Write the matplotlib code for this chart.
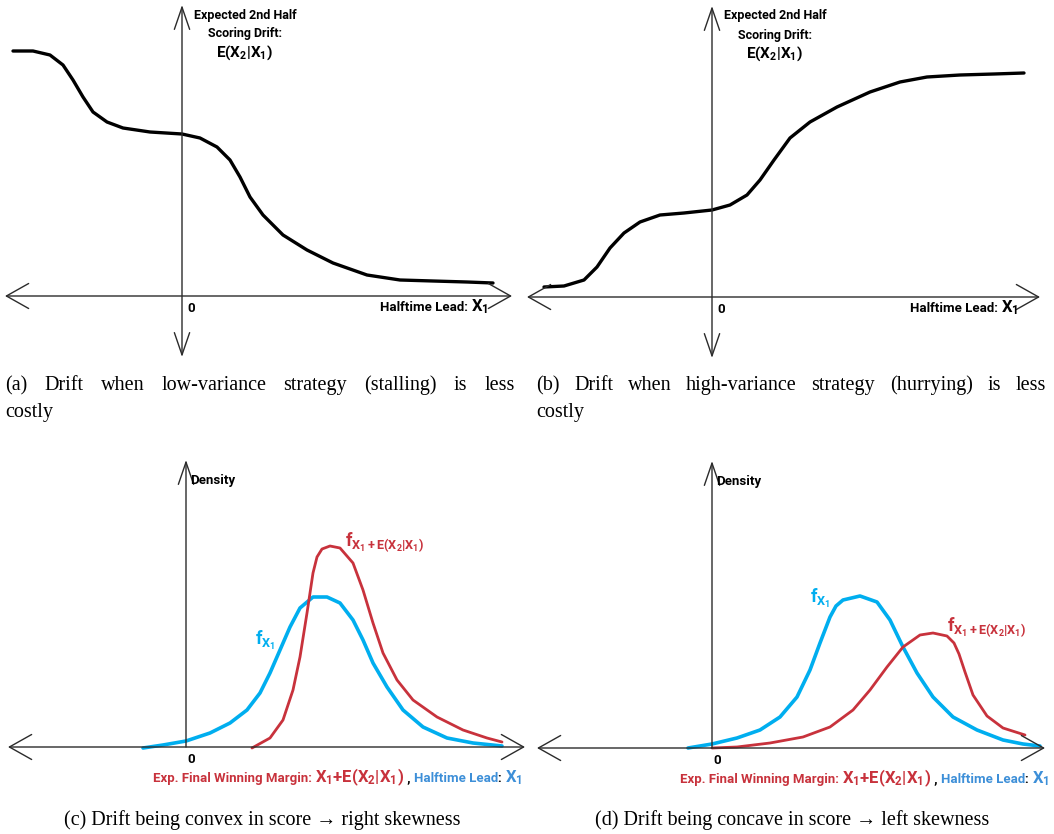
import matplotlib
matplotlib.use('Agg')
import matplotlib.pyplot as plt
from matplotlib import font_manager

# ---- data (1 unit = 10 px, origin at the axis crossing) ----
a_x = [-16.9, -14.9, -13.2, -11.9, -10.9, -9.9, -8.9, -7.5, -5.9, -3.2, 0, 1.8, 3.5, 4.8, 5.8, 6.8,
       8.1, 10.1, 12.5, 15.1, 18.5, 21.8, 25.1, 28.5, 31.1]
a_y = [24.5, 24.5, 24.1, 23.1, 21.6, 19.9, 18.4, 17.4, 16.8, 16.4, 16.2, 15.8, 14.9, 13.6, 11.9, 9.9,
       8.1, 6.1, 4.6, 3.3, 2.1, 1.6, 1.5, 1.4, 1.3]

b_x = [-16.8, -14.8, -12.8, -11.5, -10.2, -8.8, -7.2, -5.2, -2.8, 0, 1.8, 3.5, 4.8, 6.2, 7.8, 9.8,
       12.5, 15.8, 18.8, 21.5, 24.8, 28.2, 31.2]
b_y = [1.0, 1.1, 1.7, 3.0, 4.9, 6.4, 7.5, 8.2, 8.4, 8.7, 9.2, 10.2, 11.7, 13.7, 15.9, 17.5,
       19.0, 20.5, 21.5, 22.0, 22.2, 22.3, 22.4]

c_blue_x = [-4.3, -2.3, 0, 2.4, 4.4, 6.1, 7.4, 8.4, 9.4, 10.4, 11.4, 12.7, 14.1, 15.4, 16.7, 17.7,
            18.7, 20.1, 21.7, 23.7, 26.1, 28.7, 31.6]
c_blue_y = [-0.1, 0.2, 0.6, 1.4, 2.4, 3.7, 5.4, 7.4, 9.7, 12.0, 13.9, 15.0, 15.0, 14.4, 12.7, 10.7,
            8.4, 6.0, 3.7, 2.0, 0.9, 0.4, 0.1]
c_red_x = [6.6, 8.4, 9.7, 10.7, 11.4, 12.1, 12.7, 13.1, 13.6, 14.4, 15.4, 16.7, 17.7, 18.7, 19.7,
           21.1, 22.7, 25.1, 27.7, 30.1, 31.6]
c_red_y = [-0.1, 0.9, 2.7, 5.7, 9.0, 13.4, 17.4, 19.0, 19.8, 20.1, 19.9, 18.4, 15.7, 12.4, 9.4,
           6.7, 4.7, 3.0, 1.7, 0.9, 0.5]

d_blue_x = [-2.4, 0, 2.5, 4.8, 6.8, 8.5, 9.8, 10.8, 11.8, 12.4, 13.1, 14.8, 16.5, 17.8, 19.1, 20.5,
            22.1, 24.1, 26.5, 29.1, 31.1, 32.8]
d_blue_y = [0, 0.4, 1.0, 1.8, 3.1, 5.1, 7.8, 10.5, 13.1, 14.2, 14.8, 15.2, 14.6, 12.8, 10.1, 7.5,
            5.1, 3.1, 1.8, 0.8, 0.4, 0.2]
d_red_x = [0, 2.5, 5.8, 9.1, 11.8, 14.1, 15.8, 17.5, 19.1, 20.8, 22.1, 23.5, 24.2, 24.7, 25.3,
           26.1, 27.5, 29.1, 31.3]
d_red_y = [0, 0.1, 0.5, 1.1, 2.1, 3.8, 5.8, 8.1, 10.1, 11.3, 11.5, 11.2, 10.5, 9.4, 7.6,
           5.3, 3.2, 2.0, 1.3]

cap_a = "(a) Drift when low-variance strategy (stalling) is less"
cap_b = "(b) Drift when high-variance strategy (hurrying) is less"
cap_c = "(c) Drift being convex in score \u2192 right skewness"
cap_d = "(d) Drift being concave in score \u2192 left skewness"

BLUE = '#00aeef'
BLUE_TXT = '#3d8fd8'
RED = '#c8323c'
AXC = '#2b2b2b'

names = {f.name for f in font_manager.fontManager.ttflist}
fam = 'Roboto' if 'Roboto' in names else 'Liberation Sans'
LAB = dict(family=fam, weight='bold')
plt.rcParams['mathtext.fontset'] = 'custom'
plt.rcParams['mathtext.rm'] = fam
plt.rcParams['mathtext.bf'] = fam + ':bold'
plt.rcParams['mathtext.it'] = fam + ':bold'
SERIF = ['Liberation Serif', 'DejaVu Serif']

W, H = 1054, 834
fig = plt.figure(figsize=(W / 100, H / 100), dpi=100)


def panel(px0, px1, py0, py1, ox, oy):
    ax = fig.add_axes([px0 / W, 1 - py1 / H, (px1 - px0) / W, (py1 - py0) / H])
    ax.set_xlim((px0 - ox) / 10, (px1 - ox) / 10)
    ax.set_ylim((oy - py1) / 10, (oy - py0) / 10)
    ax.axis('off')
    return ax


def arrow(ax, p0, p1, hl, hw, both=True):
    st = ('<->' if both else '->') + ',head_length=%s,head_width=%s' % (hl, hw)
    ax.annotate('', xy=p1, xytext=p0, arrowprops=dict(arrowstyle=st, lw=1, color=AXC,
                                                      shrinkA=0, shrinkB=0))


def pieces(ax, x, y, parts, right=False):
    # coloured text pieces one after another on a common baseline
    r = fig.canvas.get_renderer()
    ts = [ax.text(0, y, s, color=col, fontsize=size, va='baseline', ha='left', **LAB)
          for s, col, size in parts]
    ws = [t.get_window_extent(r).width / 10 for t in ts]
    if right:
        x -= sum(ws)
    for t, w in zip(ts, ws):
        t.set_x(x)
        x += w


def justify(words, x0, x1, y):
    r = fig.canvas.get_renderer()
    ts = [fig.text(0, 1 - y / H, w, fontsize=14.5, family=SERIF, va='baseline') for w in words]
    ws = [t.get_window_extent(r).width for t in ts]
    gap = (x1 - x0 - sum(ws)) / (len(ws) - 1)
    x = x0
    for t, w in zip(ts, ws):
        t.set_x(x / W)
        x += w + gap


ax_a = panel(0, 527, 0, 370, 182, 296)
ax_b = panel(527, 1054, 0, 370, 712, 297)
ax_c = panel(0, 527, 440, 800, 186, 747)
ax_d = panel(527, 1054, 440, 800, 712, 748)
fig.canvas.draw()

# top panels
for ax, xs, ys, xl, xr, tx in [(ax_a, a_x, a_y, -17.7, 33.0, 30.6), (ax_b, b_x, b_y, -18.5, 32.8, 30.6)]:
    arrow(ax, (xl, 0), (xr, 0), 1.6, 0.9)
    arrow(ax, (0, -6.1), (0, 29.1), 1.6, 0.55)
    ax.plot(xs, ys, color='black', lw=2.4, solid_joinstyle='round', solid_capstyle='round')
    ax.text(6.3, 28.1, 'Expected 2nd Half', ha='center', va='center', fontsize=9, **LAB)
    ax.text(6.3, 26.2, 'Scoring Drift:', ha='center', va='center', fontsize=9, **LAB)
    ax.text(6.3, 24.3, r'$\mathbf{E(X_2|X_1)}$', ha='center', va='center', fontsize=11, **LAB)
    pieces(ax, tx, -1.5, [('Halftime Lead: ', 'black', 9.5), (r'$\mathbf{X_1}$', 'black', 12)], right=True)
    ax.text(0.5, -1.6, '0', ha='left', va='baseline', fontsize=9.5, **LAB)

# bottom panels
for ax, bx, by, rx, ry, xl, xr, fl, rl, sx in [
        (ax_c, c_blue_x, c_blue_y, c_red_x, c_red_y, -17.8, 33.9, (6.9, 10.7), (15.9, 20.5), -3.3),
        (ax_d, d_blue_x, d_blue_y, d_red_x, d_red_y, -17.5, 33.3, (9.8, 15.0), (23.5, 12.1), -3.2)]:
    arrow(ax, (xl, 0), (xr, 0), 1.6, 0.9)
    arrow(ax, (0, 0), (0, 28.7), 1.6, 0.55, both=False)
    ax.plot(bx, by, color=BLUE, lw=2.6, solid_joinstyle='round', solid_capstyle='round')
    ax.plot(rx, ry, color=RED, lw=2.0, solid_joinstyle='round', solid_capstyle='round')
    ax.text(0.4, 26.3, 'Density', ha='left', va='baseline', fontsize=9.5, **LAB)
    ax.text(0.1, -1.6, '0', ha='left', va='baseline', fontsize=9.5, **LAB)
    ax.text(fl[0], fl[1], r'$\mathbf{f_{X_1}}$', color=BLUE, ha='left', va='center', fontsize=13, **LAB)
    ax.text(rl[0], rl[1], r'$\mathbf{f_{X_1+E(X_2|X_1)}}$', color=RED, ha='left', va='center', fontsize=13, **LAB)
    pieces(ax, sx, -3.5, [('Exp. Final Winning Margin: ', RED, 9.5),
                          (r'$\mathbf{X_1{+}E(X_2|X_1)}$', RED, 12),
                          (' , ', 'black', 9.5),
                          ('Halftime Lead', BLUE_TXT, 9.5),
                          (': ', 'black', 9.5),
                          (r'$\mathbf{X_1}$', BLUE_TXT, 12)])

# captions
justify(cap_a.split(), 5, 515, 390)
justify(cap_b.split(), 536, 1046, 390)
fig.text(5 / W, 1 - 417 / H, 'costly', fontsize=14.5, family=SERIF, va='baseline')
fig.text(536 / W, 1 - 417 / H, 'costly', fontsize=14.5, family=SERIF, va='baseline')
fig.text(262 / W, 1 - 825 / H, cap_c, fontsize=14.5, family=SERIF, va='baseline', ha='center')
fig.text(792 / W, 1 - 825 / H, cap_d, fontsize=14.5, family=SERIF, va='baseline', ha='center')

fig.savefig('out.png', dpi=100)
